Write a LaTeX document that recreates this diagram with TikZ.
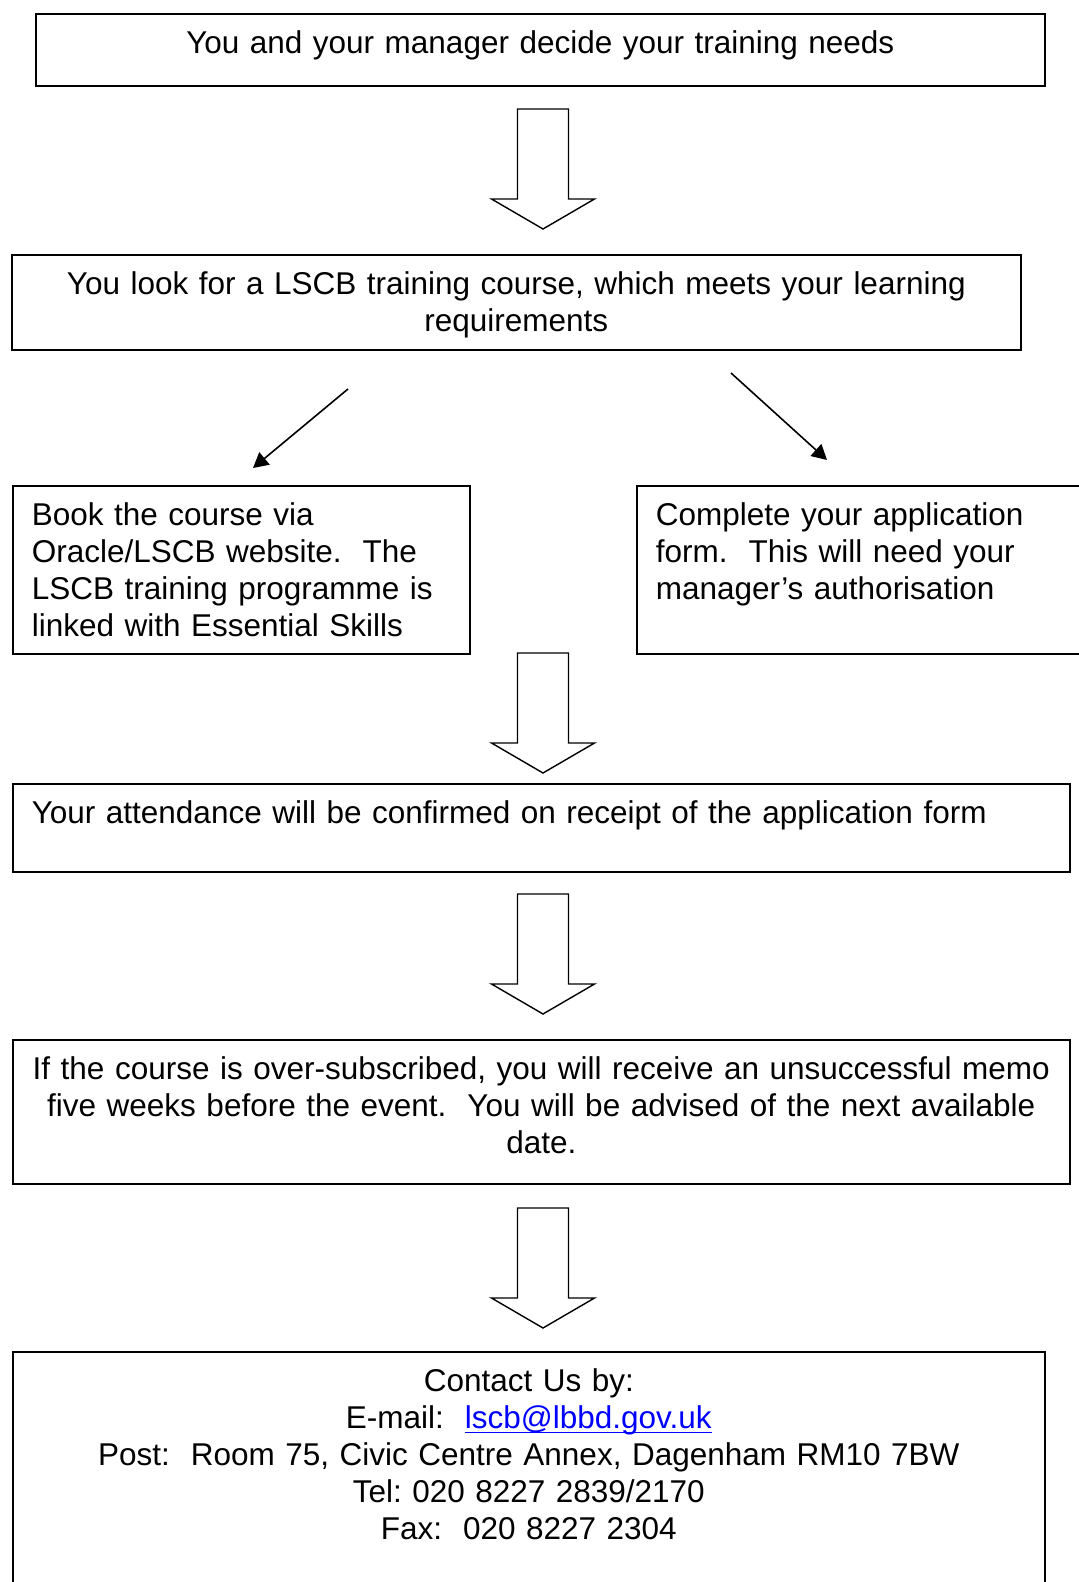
\documentclass[tikz,border=0pt]{standalone}
\usepackage{fontspec}
\setmainfont{Liberation Sans}
\usetikzlibrary{arrows.meta}

\definecolor{linkblue}{RGB}{0,0,255}
\newcommand{\weblink}[1]{{\color{linkblue}\setbox0=\hbox{#1}\rlap{\rule[-2.4pt]{\wd0}{0.9pt}}\box0}}

\tikzset{
	box/.style={draw, line width=0.8pt, anchor=north west, inner ysep=0pt, text height=20pt,
		font=\fontsize{15.75pt}{18.4pt}\selectfont\frenchspacing},
	pointer/.style={line width=0.8pt, -{Triangle[length=7.5pt,width=8pt]}},
	downarrow/.pic={
		\draw[line width=0.7pt] (-25.5,0) -- (25.5,0) -- (25.5,90) -- (51.5,90) -- (0,120)
			-- (-51.5,90) -- (-25.5,90) -- cycle;
	}
}

\begin{document}
\begin{tikzpicture}[x=0.5pt,y=-0.5pt] % one unit is one pixel of the page, y runs down

	\useasboundingbox (0,0) rectangle (1078,1582);

	\node[box, align=center, inner xsep=0pt, text width=504.5pt, text depth=16pt] (needs) at (35,13)
		{You and your manager decide your training needs};
	\node[box, align=center, inner xsep=0pt, text width=504.5pt, text depth=27.75pt] (course) at (11,254)
		{You look for a LSCB training course, which meets your learning\\ requirements};
	\node[box, align=left, inner xsep=9.5pt, text width=209.5pt, text depth=64pt] (book) at (12,485)
		{Book the course via\\ Oracle/LSCB website.\ \ The\\ LSCB training programme is\\ linked with Essential Skills};
	\node[box, align=left, inner xsep=9.5pt, text width=208pt, text depth=64pt] (form) at (636,485)
		{Complete your application\\ form.\ \ This will need your\\ manager’s authorisation};
	\node[box, align=left, inner xsep=9.5pt, text width=509.5pt, text depth=24pt] (confirm) at (12,783)
		{Your attendance will be confirmed on receipt of the application form};
	\node[box, align=center, inner xsep=0pt, text width=528.5pt, text depth=52pt] (oversub) at (12,1039)
		{If the course is over-subscribed, you will receive an unsuccessful memo\\ five weeks before the event.\ \ You will be advised of the next available\\ date.};
	\node[box, align=center, inner xsep=0pt, text width=516pt, text depth=104.5pt] (contact) at (12,1351)
		{Contact Us by:\\ E-mail:\ \ \weblink{lscb@lbbd.gov.uk}\\ Post:\ \ Room 75, Civic Centre Annex, Dagenham RM10 7BW\\ Tel: 020 8227 2839/2170\\ Fax:\ \ 020 8227 2304};

	% block arrows between the steps
	\pic at (543,109) {downarrow};
	\pic at (543,653) {downarrow};
	\pic at (543,894) {downarrow};
	\pic at (543,1208) {downarrow};

	\coordinate (bookfrom) at (348,389);
	\coordinate (bookto) at (253,468);
	\coordinate (formfrom) at (731,373);
	\coordinate (formto) at (827,460);
	\draw[pointer] (bookfrom) -- (bookto);
	\draw[pointer] (formfrom) -- (formto);

\end{tikzpicture}
\end{document}
